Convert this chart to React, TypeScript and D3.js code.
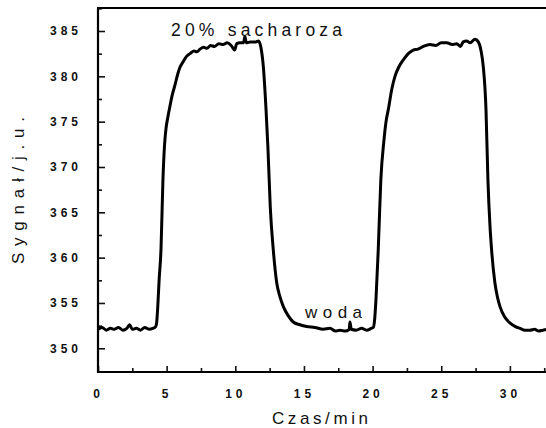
import React, { useEffect, useRef } from "react"
import * as d3 from "d3"

// time in minutes, signal in arbitrary units (j.u.)
const timeMin = [
  0, 0.3, 0.6, 0.9, 1.2, 1.5, 1.8, 2.1, 2.3, 2.5, 2.8, 3.1, 3.4, 3.7, 4.0, 4.2, 4.27,
  4.35, 4.45, 4.59, 4.73, 4.85, 4.95, 5.1, 5.24, 5.4, 5.6, 5.8, 5.97, 6.2, 6.45, 6.7,
  7.0, 7.2, 7.43, 7.7, 7.94, 8.2, 8.5, 8.8, 9.1, 9.4, 9.7, 9.95, 10.1, 10.35, 10.6,
  10.7, 10.8, 11.1, 11.5, 11.7,
  11.85, 12.04, 12.24, 12.38, 12.55, 12.77, 13.02, 13.25, 13.5, 13.85, 14.22, 14.7,
  15.2, 15.8, 16.4, 16.9, 17.3, 17.62, 18.0, 18.3, 18.35, 18.45, 18.8, 19.2, 19.57,
  19.9, 20.05,
  20.15, 20.25, 20.41, 20.6, 20.83, 21.0, 21.14, 21.4, 21.63, 21.9, 22.23, 22.6, 22.96,
  23.3, 23.7, 24.18, 24.6, 25.0, 25.4, 25.8, 26.13, 26.4, 26.6, 26.85, 27.1, 27.46, 27.7,
  27.9, 28.06, 28.26, 28.4, 28.55, 28.67, 28.91, 29.1, 29.28, 29.6, 30.0, 30.4, 30.74,
  31.1, 31.46, 31.8, 32.1, 32.4, 32.7,
]

const signal = [
  352.1, 352.3, 352.0, 352.2, 352.1, 352.3, 352.0, 352.2, 352.6, 352.1, 352.2, 352.0, 352.3, 352.1, 352.2, 352.4, 352.8,
  354.5, 357.5, 361.0, 368.6, 372.5, 374.2, 375.6, 376.7, 377.9, 379.0, 380.2, 381.0, 381.6, 382.2, 382.5,
  382.8, 382.7, 383.0, 383.2, 383.1, 383.4, 383.3, 383.6, 383.5, 383.7, 383.4, 382.9, 383.6, 383.7, 383.7,
  384.4, 383.7, 383.8, 383.8, 383.9,
  383.3, 381.1, 376.3, 372.0, 365.5, 360.8, 357.2, 355.7, 354.6, 353.6, 352.9, 352.6,
  352.4, 352.3, 352.1, 352.2, 351.9, 352.0, 351.9, 352.1, 352.9, 352.1, 352.0, 352.2, 352.0,
  352.2, 352.3,
  353.2, 355.5, 360.8, 368.6, 373.0, 375.2, 376.3, 378.6, 380.0, 381.0, 381.8, 382.5, 382.9,
  383.0, 383.3, 383.5, 383.4, 383.7, 383.7, 383.5, 383.6, 383.3, 383.8, 383.9, 383.7, 384.1, 383.8,
  382.8, 381.1, 376.3, 368.6, 363.5, 360.8, 357.2, 355.6, 354.6, 353.5, 352.8, 352.4, 352.2,
  352.0, 352.0, 352.1, 351.9, 352.0, 352.1,
]

const xMajorTicks = [0, 5, 10, 15, 20, 25, 30]
const xMinorTicks = [2.5, 7.5, 12.5, 17.5, 22.5, 27.5, 32.5]
const yMajorTicks = [350, 355, 360, 365, 370, 375, 380, 385]
const yMinorTicks = [352.5, 357.5, 362.5, 367.5, 372.5, 377.5, 382.5, 387.5]

const xLabel = "Czas/min"
const yLabel = "Sygnał/j.u."
const highLabel = "20% sacharoza"
const lowLabel = "woda"

const W = 546
const H = 428
const FONT = "'Liberation Sans', Arial, sans-serif"

const App = () => {
  const ref = useRef<SVGSVGElement>(null)

  useEffect(() => {
    const svg = d3.select(ref.current)
    svg.selectAll("*").remove()

    const x = d3.scaleLinear().domain([0, 32.63]).range([98, 546])
    const y = d3.scaleLinear().domain([350, 385]).range([348.3, 31])
    const x0 = 98
    const y0 = 372
    const top = 8

    // minor ticks (inward)
    svg
      .append("g")
      .attr("transform", `translate(${x0},0)`)
      .call(d3.axisLeft(y).tickValues(yMinorTicks.filter((v) => y(v) > top)).tickSize(-4).tickFormat(() => "").tickSizeOuter(0))
      .call((g) => g.select(".domain").remove())
    svg
      .append("g")
      .attr("transform", `translate(0,${y0})`)
      .call(d3.axisBottom(x).tickValues(xMinorTicks).tickSize(-4).tickFormat(() => "").tickSizeOuter(0))
      .call((g) => g.select(".domain").remove())

    // major ticks with labels
    const yAxis = svg
      .append("g")
      .attr("transform", `translate(${x0},0)`)
      .call(d3.axisLeft(y).tickValues(yMajorTicks).tickSize(-7).tickPadding(16).tickSizeOuter(0))
    yAxis.select(".domain").remove()

    const xAxis = svg
      .append("g")
      .attr("transform", `translate(0,${y0})`)
      .call(d3.axisBottom(x).tickValues(xMajorTicks).tickSize(-6).tickPadding(17).tickSizeOuter(0))
    xAxis.select(".domain").remove()

    svg
      .selectAll(".tick line")
      .attr("stroke", "#111")
      .attr("stroke-width", 1.6)

    svg
      .selectAll(".tick text")
      .attr("fill", "#111")
      .style("font-family", FONT)
      .style("font-size", "12px")
      .style("font-weight", "bold")
      .style("letter-spacing", "4px")

    // frame lines
    svg
      .append("line")
      .attr("x1", x0)
      .attr("x2", x0)
      .attr("y1", top)
      .attr("y2", y0 + 1)
      .attr("stroke", "#000")
      .attr("stroke-width", 2.2)
    svg
      .append("line")
      .attr("x1", x0 - 1)
      .attr("x2", W)
      .attr("y1", y0)
      .attr("y2", y0)
      .attr("stroke", "#000")
      .attr("stroke-width", 2.2)
    svg
      .append("line")
      .attr("x1", x0 - 1)
      .attr("x2", W)
      .attr("y1", top)
      .attr("y2", top)
      .attr("stroke", "#000")
      .attr("stroke-width", 1.8)

    // signal trace
    const points = timeMin.map((t, i) => [t, signal[i]] as [number, number])
    const line = d3
      .line<[number, number]>()
      .x((d) => x(d[0]))
      .y((d) => y(d[1]))
      .curve(d3.curveMonotoneX)

    svg
      .append("path")
      .datum(points)
      .attr("d", line)
      .attr("fill", "none")
      .attr("stroke", "#000")
      .attr("stroke-width", 3)
      .attr("stroke-linejoin", "round")

    // annotations
    const txt = (label: string, tx: number, ty: number, len: number, size: number) =>
      svg
        .append("text")
        .attr("x", tx)
        .attr("y", ty)
        .attr("textLength", len)
        .attr("lengthAdjust", "spacing")
        .attr("fill", "#111")
        .style("font-family", FONT)
        .style("font-size", `${size}px`)
        .text(label)

    txt(highLabel, 171, 36, 171, 17.5)
    txt(lowLabel, 305, 318, 57, 17)
    txt(xLabel, 272, 424, 96, 17)

    svg
      .append("text")
      .attr("transform", "translate(24,264) rotate(-90)")
      .attr("textLength", 147)
      .attr("lengthAdjust", "spacing")
      .attr("fill", "#111")
      .style("font-family", FONT)
      .style("font-size", "17px")
      .text(yLabel)
  }, [])

  return (
    <svg
      ref={ref}
      width={W}
      height={H}
      style={{ position: "absolute", left: 0, top: 0, background: "#fff" }}
    ></svg>
  )
}

export default App
